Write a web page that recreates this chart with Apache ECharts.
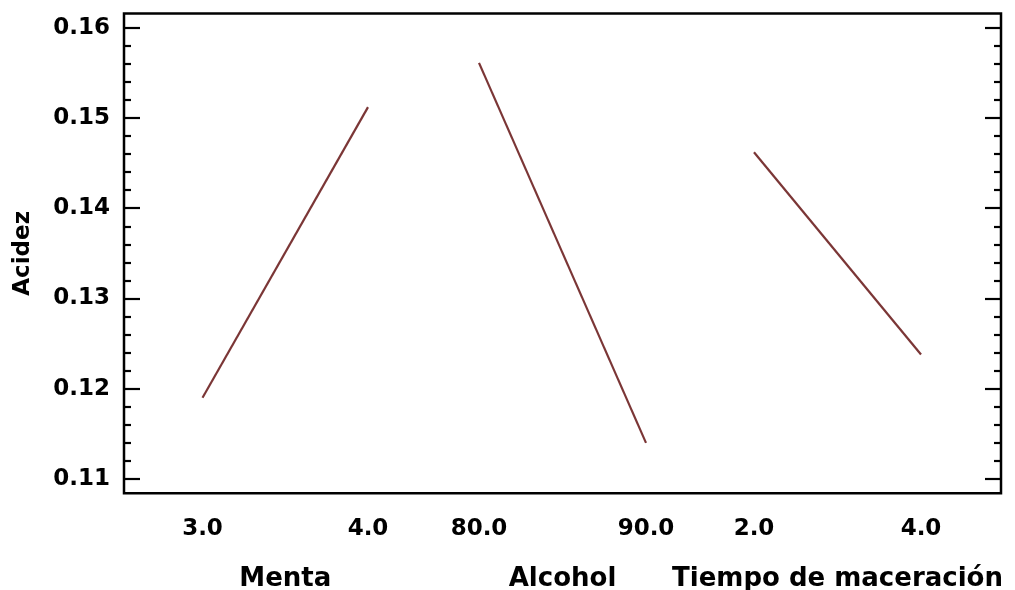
<!DOCTYPE html>
<html>
<head>
<meta charset="utf-8">
<script src="https://cdn.jsdelivr.net/npm/echarts@6/dist/echarts.min.js"></script>
<style>html,body{margin:0;padding:0;background:#fff;}#c{width:1015px;height:590px;}</style>
</head>
<body>
<div id="c"></div>
<script>
// Factors (x-axis groups)
const factorNames = ['Menta', 'Alcohol', 'Tiempo de maceración'];
const mentaX = [3.0, 4.0];
const mentaY = [0.1190, 0.1512];
const alcoholX = [80.0, 90.0];
const alcoholY = [0.1561, 0.1140];
const tiempoX = [2.0, 4.0];
const tiempoY = [0.1462, 0.1238];
// Y axis ticks
const yRange = [0.11, 0.16];
const yStep = 0.01;
const yName = 'Acidez';

const FONT = 'DejaVu Sans';
const LINE_COLOR = '#7b3636';

const chart = echarts.init(document.getElementById('c'), null, {renderer: 'canvas'});

const groups = [
  {x: mentaX, y: mentaY, left: 202.5, width: 165.5},
  {x: alcoholX, y: alcoholY, left: 479, width: 167},
  {x: tiempoX, y: tiempoY, left: 754, width: 167}
];

const G = {outerBoundsMode: 'none', containLabel: false};
const grids = [
  // frame
  Object.assign({left: 124, right: 14, top: 13.5, bottom: 96.7, show: true, borderColor: '#000', borderWidth: 2.5, backgroundColor: 'transparent'}, G),
  // y-axis scale grid
  Object.assign({left: 124, right: 14, top: 27.7, bottom: 111}, G)
];
groups.forEach(g => grids.push(Object.assign({left: g.left, width: g.width, top: 27.7, bottom: 111}, G)));

const xAxes = [
  {gridIndex: 0, type: 'value', show: false, min: 0, max: 1},
  {gridIndex: 1, type: 'value', show: false, min: 0, max: 1}
];
const tickStyle = {color: '#000', width: 2.2};
const yAxes = [
  {gridIndex: 0, type: 'value', show: false, min: 0, max: 1},
  {
    gridIndex: 1, type: 'value', position: 'left',
    min: yRange[0], max: yRange[1], interval: yStep,
    name: yName, nameLocation: 'middle', nameGap: 89,
    nameTextStyle: {fontFamily: FONT, fontWeight: 'bold', fontSize: 23, color: '#000'},
    axisLine: {show: false},
    axisTick: {show: true, inside: true, length: 16, lineStyle: tickStyle},
    minorTick: {show: true, splitNumber: 5, length: 7, lineStyle: tickStyle},
    splitLine: {show: false},
    axisLabel: {margin: 14, fontFamily: FONT, fontWeight: 'bold', fontSize: 23, color: '#000',
      formatter: v => v.toFixed(2)}
  },
  {
    gridIndex: 1, type: 'value', position: 'right',
    min: yRange[0], max: yRange[1], interval: yStep,
    axisLine: {show: false},
    axisTick: {show: true, inside: true, length: 16, lineStyle: tickStyle},
    minorTick: {show: true, splitNumber: 5, length: 7, lineStyle: tickStyle},
    splitLine: {show: false},
    axisLabel: {show: false}
  }
];

const series = [];
groups.forEach((g, i) => {
  const gi = i + 2;
  xAxes.push({
    gridIndex: gi, type: 'value',
    min: g.x[0], max: g.x[1], interval: g.x[1] - g.x[0],
    name: factorNames[i], nameLocation: 'middle', nameGap: 87,
    nameTextStyle: {fontFamily: FONT, fontWeight: 'bold', fontSize: 26, color: '#000'},
    axisLine: {show: false}, axisTick: {show: false}, splitLine: {show: false},
    axisLabel: {margin: 39, fontFamily: FONT, fontWeight: 'bold', fontSize: 23, color: '#000',
      formatter: v => v.toFixed(1)}
  });
  yAxes.push({gridIndex: gi, type: 'value', show: false, min: yRange[0], max: yRange[1],
    splitLine: {show: false}});
  series.push({
    type: 'line', xAxisIndex: gi, yAxisIndex: i + 3,
    data: g.x.map((xv, k) => [xv, g.y[k]]),
    showSymbol: false, symbol: 'none', silent: true,
    lineStyle: {color: LINE_COLOR, width: 2.2},
    animation: false
  });
});

chart.setOption({
  backgroundColor: '#fff',
  animation: false,
  grid: grids,
  xAxis: xAxes,
  yAxis: yAxes,
  series: series
});
</script>
</body>
</html>
